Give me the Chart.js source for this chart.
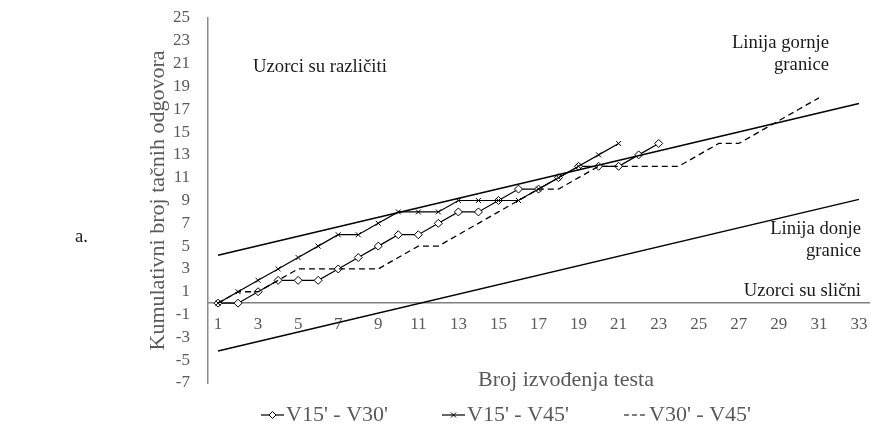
<!DOCTYPE html>
<html><head><meta charset="utf-8">
<script src="https://cdn.jsdelivr.net/npm/chart.js@4/dist/chart.umd.min.js"></script>
<style>html,body{margin:0;padding:0;background:#fff}#wrap{width:874px;height:431px;position:relative}</style>
</head><body><div id="wrap"><canvas id="c" width="874" height="431"></canvas></div>
<script>
// ---- data ----
const seriesNames = ["V15' - V30'", "V15' - V45'", "V30' - V45'"];
const s1 = [0,0,1,2,2,2,3,4,5,6,6,7,8,8,9,10,10,11,12,12,12,13,14];
const s2 = [0,1,2,3,4,5,6,6,7,8,8,8,9,9,9,9,10,11,12,13,14];
const s3 = [0,1,1,2,3,3,3,3,3,4,5,5,6,7,8,9,10,10,11,12,12,12,12,12,13,14,14,15,16,17,18];
const boundX = [1, 33];
const upperLine = [4.2, 17.5];
const lowerLine = [-4.2, 9.1];
const xTicks = [1,3,5,7,9,11,13,15,17,19,21,23,25,27,29,31,33];
const yTicks = [-7,-5,-3,-1,1,3,5,7,9,11,13,15,17,19,21,23,25];
const xTitle = "Broj izvođenja testa";
const yTitle = "Kumulativni broj tačnih odgovora";

const FONT = "'Liberation Serif', 'Times New Roman', serif";
const GRAY = '#595959';
const toPts = arr => arr.map((v, i) => ({x: i + 1, y: v}));
const toBound = arr => arr.map((v, i) => ({x: boundX[i], y: v}));

function diamond(ctx, x, y, r) {
  ctx.beginPath();
  ctx.moveTo(x, y - r); ctx.lineTo(x + r, y); ctx.lineTo(x, y + r); ctx.lineTo(x - r, y); ctx.closePath();
  ctx.fillStyle = '#fff'; ctx.fill(); ctx.strokeStyle = '#000'; ctx.lineWidth = 1; ctx.stroke();
}
function xmark(ctx, x, y, r) {
  ctx.beginPath();
  ctx.moveTo(x - r, y - r); ctx.lineTo(x + r, y + r); ctx.moveTo(x + r, y - r); ctx.lineTo(x - r, y + r);
  ctx.strokeStyle = '#000'; ctx.lineWidth = 1; ctx.stroke();
}

const extras = {
  id: 'extras',
  afterDraw(chart) {
    const ctx = chart.ctx;
    ctx.save();
    ctx.textBaseline = 'middle';

    // x axis title
    ctx.fillStyle = GRAY;
    ctx.font = '22px ' + FONT;
    ctx.textAlign = 'center';
    ctx.fillText(xTitle, 566, 380);

    // annotations
    ctx.fillStyle = '#1a1a1a';
    ctx.font = '18.7px ' + FONT;
    ctx.textAlign = 'left';
    ctx.fillText('Uzorci su različiti', 253, 67);
    ctx.fillText('a.', 75, 237);
    ctx.textAlign = 'right';
    ctx.fillText('Linija gornje', 829, 43);
    ctx.fillText('granice', 829, 65);
    ctx.fillText('Linija donje', 861, 229);
    ctx.fillText('granice', 861, 251);
    ctx.fillText('Uzorci su slični', 861, 291);

    // legend
    const lx = [261, 442, 624];
    const ly = 415;
    ctx.font = '22px ' + FONT;
    ctx.textAlign = 'left';
    for (let i = 0; i < 3; i++) {
      const x0 = lx[i];
      ctx.strokeStyle = '#000';
      ctx.lineWidth = 1.2;
      ctx.setLineDash(i === 2 ? [5, 3] : []);
      ctx.beginPath(); ctx.moveTo(x0, ly); ctx.lineTo(x0 + 23, ly); ctx.stroke();
      ctx.setLineDash([]);
      if (i === 0) diamond(ctx, x0 + 11.5, ly, 3.5);
      if (i === 1) xmark(ctx, x0 + 11.5, ly, 2.5);
      ctx.fillStyle = GRAY;
      ctx.fillText(seriesNames[i], x0 + 25, ly);
    }
    ctx.restore();
  }
};

new Chart(document.getElementById('c'), {
  type: 'line',
  data: {
    datasets: [
      {label: 'upper', data: toBound(upperLine), borderColor: '#000', borderWidth: 1.5, pointRadius: 0},
      {label: 'lower', data: toBound(lowerLine), borderColor: '#000', borderWidth: 1.5, pointRadius: 0},
      {label: seriesNames[2], data: toPts(s3), borderColor: '#000', borderWidth: 1.3, borderDash: [6, 4], pointRadius: 0},
      {label: seriesNames[1], data: toPts(s2), borderColor: '#000', borderWidth: 1.2, pointStyle: 'crossRot', pointRadius: 3.5, pointBorderColor: '#000', pointBorderWidth: 1},
      {label: seriesNames[0], data: toPts(s1), borderColor: '#000', borderWidth: 1.2, pointStyle: 'rectRot', pointRadius: 4, pointBackgroundColor: '#fff', pointBorderColor: '#000', pointBorderWidth: 1}
    ]
  },
  options: {
    responsive: false,
    animation: false,
    devicePixelRatio: 1,
    layout: {padding: {top: 18, left: 0, right: 0, bottom: 48}},
    plugins: {legend: {display: false}, tooltip: {enabled: false}},
    elements: {line: {tension: 0}},
    scales: {
      x: {
        type: 'linear', min: 0.5, max: 33.5, position: {y: 0},
        afterBuildTicks: s => { s.ticks = xTicks.map(v => ({value: v})); },
        ticks: {font: {family: FONT, size: 17}, color: GRAY, padding: 0, autoSkip: false, maxRotation: 0},
        grid: {display: false, drawTicks: true, tickLength: 11, tickColor: 'rgba(0,0,0,0)'},
        border: {display: true, color: '#7f7f7f', width: 1.5},
        title: {display: false}
      },
      y: {
        type: 'linear', min: -7, max: 25,
        afterBuildTicks: s => { s.ticks = yTicks.map(v => ({value: v})); },
        afterFit: s => { s.width = 208; },
        ticks: {font: {family: FONT, size: 17}, color: GRAY, padding: 0, autoSkip: false},
        grid: {display: false, drawTicks: true, tickLength: 18, tickColor: 'rgba(0,0,0,0)'},
        border: {display: true, color: '#8c8c8c', width: 1.5},
        title: {display: true, text: yTitle, font: {family: FONT, size: 22}, color: GRAY, padding: {top: 145, bottom: 0}}
      }
    }
  },
  plugins: [extras]
});
</script></body></html>
